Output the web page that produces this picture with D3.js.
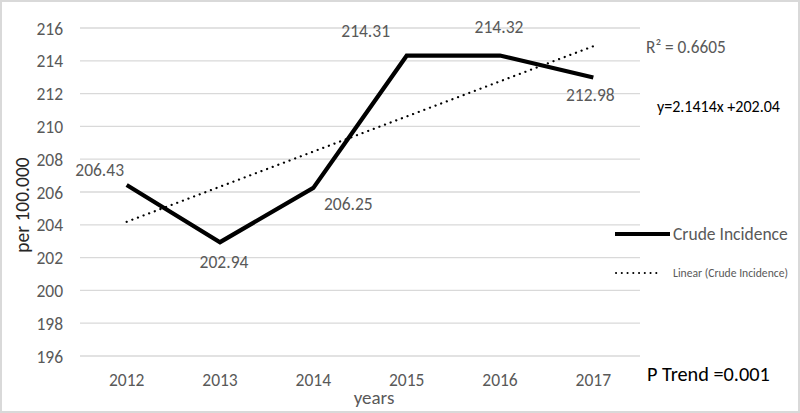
<!DOCTYPE html>
<html><head><meta charset="utf-8">
<script src="https://cdn.jsdelivr.net/npm/d3@7"></script>
<style>body{margin:0;background:#fff}svg{display:block}</style>
</head><body>
<svg id="c" width="800" height="413"></svg>
<script>
const years = ["2012","2013","2014","2015","2016","2017"];
const crude = [206.43, 202.94, 206.25, 214.31, 214.32, 212.98];
const trendSlope = 2.1414, trendIntercept = 202.04;
const yTicks = [196,198,200,202,204,206,208,210,212,214,216];
const labelText = ["206.43","202.94","206.25","214.31","214.32","212.98"];

const svg = d3.select("#c");
const font = "Calibri, Carlito, 'Liberation Sans', sans-serif";
svg.append("rect").attr("x",1).attr("y",1).attr("width",798).attr("height",411)
  .attr("fill","#fff").attr("stroke","#d9d9d9").attr("stroke-width",2);

const x = d3.scaleBand().domain(years).range([80,640]);
const cx = d => x(d) + x.bandwidth()/2;
const y = d3.scaleLinear().domain([196,216]).range([356,28]);

// gridlines
svg.append("g").selectAll("line").data(yTicks).join("line")
  .attr("x1",80).attr("x2",640).attr("y1",d=>y(d)).attr("y2",d=>y(d))
  .attr("stroke","#d9d9d9").attr("stroke-width",1.3);

// y axis labels
const ya = svg.append("g").attr("transform","translate(70,0)")
  .call(d3.axisLeft(y).tickValues(yTicks).tickSize(0).tickPadding(7));
ya.select(".domain").remove();
ya.selectAll("text").attr("font-family",font).attr("font-size",17.5).attr("fill","#595959")
  .attr("dy",null).attr("dominant-baseline","central");

// x axis labels
const xa = svg.append("g").attr("transform","translate(0,380)")
  .call(d3.axisBottom(x).tickSize(0));
xa.select(".domain").remove();
xa.selectAll("text").attr("font-family",font).attr("font-size",17.5).attr("fill","#595959")
  .attr("y",0).attr("dy",null).attr("dominant-baseline","central");

// axis titles
svg.append("text").attr("transform","translate(22,205) rotate(-90)").attr("text-anchor","middle")
  .attr("dominant-baseline","central")
  .attr("font-family",font).attr("font-size",19.5).attr("fill","#262626").text("per 100.000");
svg.append("text").attr("x",374).attr("y",397).attr("text-anchor","middle")
  .attr("dominant-baseline","central")
  .attr("font-family",font).attr("font-size",19).attr("fill","#595959").text("years");

// trend line
svg.append("line")
  .attr("x1",cx(years[0])).attr("y1",y(trendIntercept+trendSlope*1))
  .attr("x2",cx(years[5])).attr("y2",y(trendIntercept+trendSlope*6))
  .attr("stroke","#000").attr("stroke-width",2.2).attr("stroke-linecap","round")
  .attr("stroke-dasharray","0.1 5.9");

// main line
svg.append("path").datum(crude)
  .attr("d", d3.line().x((d,i)=>cx(years[i])).y(d=>y(d)))
  .attr("fill","none").attr("stroke","#000").attr("stroke-width",4.2).attr("stroke-linejoin","miter");

// data labels
const off = [[-27,-15],[4,20],[35,16],[-41,-25],[-1,-29],[-3,17]];
svg.append("g").selectAll("text").data(crude).join("text")
  .attr("x",(d,i)=>cx(years[i])+off[i][0]).attr("y",(d,i)=>y(d)+off[i][1])
  .attr("text-anchor","middle").attr("dominant-baseline","central")
  .attr("font-family",font).attr("font-size",17.5).attr("fill","#595959")
  .text((d,i)=>labelText[i]);

// annotations
svg.append("text").attr("x",646).attr("y",47).attr("dominant-baseline","central")
  .attr("font-family",font).attr("font-size",17.3).attr("fill","#595959").text("R² = 0.6605");
svg.append("text").attr("x",657).attr("y",106).attr("dominant-baseline","central")
  .attr("font-family",font).attr("font-size",16).attr("fill","#000").text("y=2.1414x +202.04");

// legend
svg.append("line").attr("x1",615).attr("x2",670).attr("y1",234).attr("y2",234)
  .attr("stroke","#000").attr("stroke-width",4.2);
svg.append("text").attr("x",673).attr("y",234).attr("dominant-baseline","central")
  .attr("font-family",font).attr("font-size",17.5).attr("fill","#595959").text("Crude Incidence");
svg.append("line").attr("x1",616).attr("x2",662).attr("y1",273).attr("y2",273)
  .attr("stroke","#000").attr("stroke-width",2).attr("stroke-linecap","round")
  .attr("stroke-dasharray","0.1 5.65");
svg.append("text").attr("x",673).attr("y",273).attr("dominant-baseline","central")
  .attr("font-family",font).attr("font-size",12).attr("fill","#595959")
  .attr("textLength",115).attr("lengthAdjust","spacingAndGlyphs").text("Linear (Crude Incidence)");

svg.append("text").attr("x",647).attr("y",374).attr("dominant-baseline","central")
  .attr("font-family",font).attr("font-size",20.3).attr("fill","#000").text("P Trend =0.001");
</script>
</body></html>
